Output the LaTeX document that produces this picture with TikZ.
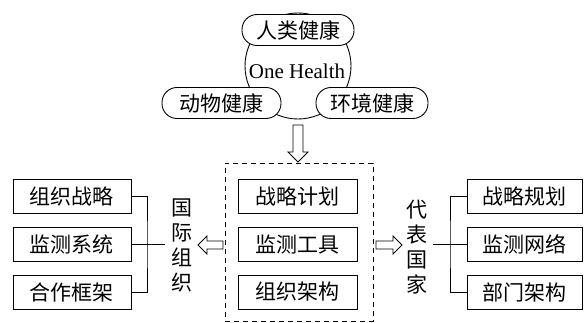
\documentclass[tikz,border=0pt]{standalone}
\usepackage{fontspec}
\setmainfont{Liberation Serif}
\newfontfamily\cjk{Noto Sans CJK SC}
\begin{document}
\begin{tikzpicture}[x=1pt,y=-1pt,
  lw/.style={line width=0.9pt},
  box/.style={draw, lw, minimum width=118pt, minimum height=34pt, inner sep=0pt, font=\cjk\fontsize{21}{24}\selectfont},
  pill/.style={draw, fill=white, lw, rounded corners=15pt, minimum height=31pt, inner sep=0pt, font=\cjk\fontsize{21}{24}\selectfont},
  vtext/.style={align=center, font=\cjk\fontsize{21}{25}\selectfont, inner sep=0pt},
  conn/.style={lw},
  hollow/.style={draw, lw, fill=white, line join=miter}]
\useasboundingbox (0,0) rectangle (584,323);
% One Health circle
\node[circle, draw, lw, minimum size=106pt, inner sep=0pt] (oh) at (298,66) {};
\node[font=\fontsize{21}{24}\selectfont, inner sep=0pt] (ohtext) at (297,71) {One Health};
\node[pill, minimum width=112pt] (hum) at (298,30) {人类健康};
\node[pill, minimum width=119pt] (ani) at (221.5,103) {动物健康};
\node[pill, minimum width=112pt] (env) at (372,103) {环境健康};
% down hollow arrow
\draw[hollow] (293,125) -- (303,125) -- (303,152) -- (308,152) -- (298,162) -- (288,152) -- (293,152) -- cycle;
% dashed frame
\node[draw, dashed, lw, dash pattern=on 5pt off 4pt, minimum width=148pt, minimum height=158pt, inner sep=0pt] (frame) at (299,242) {};
% center boxes
\node[box, minimum width=119pt] (c1) at (297.5,196.5) {战略计划};
\node[box, minimum width=119pt] (c2) at (297.5,244.5) {监测工具};
\node[box, minimum width=119pt] (c3) at (297.5,292) {组织架构};
% left boxes
\node[box] (l1) at (72,196) {组织战略};
\node[box] (l2) at (72,244.5) {监测系统};
\node[box] (l3) at (72,292.5) {合作框架};
% right boxes
\node[box, minimum width=115pt] (r1) at (524.5,196) {战略规划};
\node[box, minimum width=115pt] (r2) at (524.5,244.5) {监测网络};
\node[box, minimum width=115pt] (r3) at (524.5,292.5) {部门架构};
% vertical labels
\node[vtext] (intl) at (182,245) {国\\际\\组\\织};
\node[vtext] (nat) at (417,247) {代\\表\\国\\家};
% left bracket
\coordinate (lj) at (147,244.5);
\coordinate (lend) at (165,244.5);
\draw[conn] (l1.east) -| (lj) |- (l3.east);
\draw[conn] (l2.east) -- (lend);
% right bracket
\coordinate (rj) at (450,244.5);
\coordinate (rstart) at (433,244.5);
\draw[conn] (r1.west) -| (rj) |- (r3.west);
\draw[conn] (rstart) -- (r2.west);
% side hollow arrows
\draw[hollow] (223,241) -- (207,241) -- (207,236) -- (198,245) -- (207,254) -- (207,249) -- (223,249) -- cycle;
\draw[hollow] (376,241) -- (393,241) -- (393,236) -- (402,245) -- (393,254) -- (393,249) -- (376,249) -- cycle;
\end{tikzpicture}
\end{document}
